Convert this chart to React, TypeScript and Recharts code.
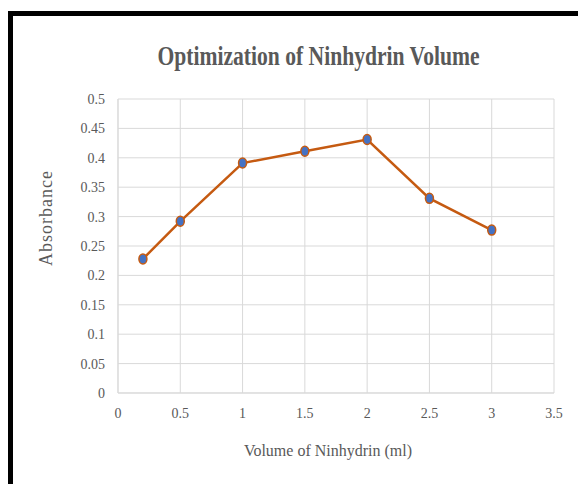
import React from 'react';
import { LineChart, Line, XAxis, YAxis, CartesianGrid } from 'recharts';

const volumes = [0.2, 0.5, 1, 1.5, 2, 2.5, 3];
const absorbance = [0.228, 0.292, 0.391, 0.411, 0.431, 0.331, 0.277];
const xTicks = [0, 0.5, 1, 1.5, 2, 2.5, 3, 3.5];
const yTicks = [0, 0.05, 0.1, 0.15, 0.2, 0.25, 0.3, 0.35, 0.4, 0.45, 0.5];

const data = volumes.map((v, i) => ({ volume: v, absorbance: absorbance[i] }));

const TEXT = '#595959';
const GRID = '#d9d9d9';
const LINE = '#c55a11';
const DOT = '#4472c4';
const FONT = '"Liberation Serif", "Times New Roman", serif';

const Dot = (props: any) => {
  const { cx, cy } = props;
  if (cx == null || cy == null) return null;
  return <ellipse cx={cx} cy={cy} rx={4} ry={5} fill={DOT} stroke={LINE} strokeWidth={1.5} />;
};

const XLabel = (props: any) => {
  const vb = props.viewBox;
  return (
    <text
      x={vb.x + vb.width / 2 - 8}
      y={456}
      textAnchor="middle"
      fill={TEXT}
      fontFamily={FONT}
      fontSize={16}
    >
      Volume of Ninhydrin (ml)
    </text>
  );
};

const YLabel = (props: any) => {
  const vb = props.viewBox;
  const cx = 46;
  const cy = vb.y + vb.height / 2 - 28;
  return (
    <text
      x={cx}
      y={cy}
      transform={`rotate(-90 ${cx} ${cy})`}
      textAnchor="middle"
      dominantBaseline="central"
      fill={TEXT}
      fontFamily={FONT}
      fontSize={18}
      letterSpacing={1}
    >
      Absorbance
    </text>
  );
};

export default function App() {
  return (
    <div
      style={{
        position: 'absolute',
        left: 0,
        top: 0,
        width: 578,
        height: 484,
        background: '#fff',
        overflow: 'hidden',
      }}
    >
      <div
        style={{
          position: 'absolute',
          left: 8,
          top: 11,
          width: 600,
          height: 500,
          borderTop: '5px solid #000',
          borderLeft: '5px solid #000',
        }}
      />
      <div
        style={{
          position: 'absolute',
          left: 0,
          top: 41,
          width: 637,
          textAlign: 'center',
          fontFamily: FONT,
          fontWeight: 'bold',
          fontSize: 27,
          color: TEXT,
          transform: 'scaleX(0.8)',
          transformOrigin: '318.5px 0',
          whiteSpace: 'nowrap',
          lineHeight: '30px',
        }}
      >
        Optimization of Ninhydrin Volume
      </div>
      <div style={{ position: 'absolute', left: 0, top: 0 }}>
        <LineChart
          width={578}
          height={484}
          data={data}
          margin={{ top: 99, right: 24, bottom: 61, left: 58 }}
        >
          <CartesianGrid stroke={GRID} strokeWidth={1} />
          <XAxis
            type="number"
            dataKey="volume"
            domain={[0, 3.5]}
            ticks={xTicks}
            interval={0}
            height={30}
            stroke={GRID}
            tickLine={false}
            tickSize={6}
            tickMargin={9}
            tick={{ fill: TEXT, fontFamily: FONT, fontSize: 14 }}
            label={<XLabel />}
          />
          <YAxis
            type="number"
            domain={[0, 0.5]}
            ticks={yTicks}
            interval={0}
            width={60}
            stroke={GRID}
            tickLine={false}
            tickSize={6}
            tickMargin={7}
            tick={{ fill: TEXT, fontFamily: FONT, fontSize: 14 }}
            label={<YLabel />}
          />
          <Line
            type="linear"
            dataKey="absorbance"
            stroke={LINE}
            strokeWidth={2.5}
            dot={<Dot />}
            activeDot={false}
            isAnimationActive={false}
          />
        </LineChart>
      </div>
    </div>
  );
}
